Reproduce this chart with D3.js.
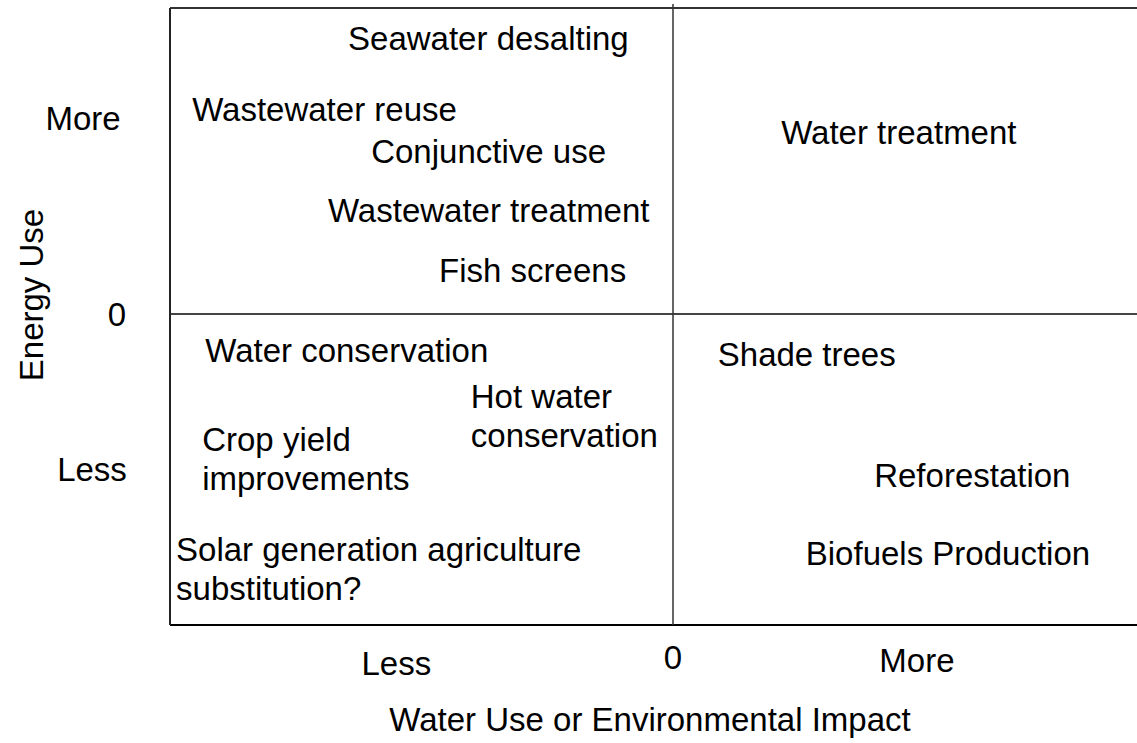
<!DOCTYPE html>
<html>
<head>
<meta charset="utf-8">
<title>Energy vs Water Use</title>
<script src="https://d3js.org/d3.v7.min.js"></script>
<style>
  body { margin: 0; background: #fff; }
  text { font-family: "Liberation Sans", Arial, sans-serif; font-size: 33px; fill: #000; }
</style>
</head>
<body>
<svg id="chart"></svg>
<script>
// quadrant labels, positions in data units (-1..1 on both axes)
var labelText = [
  ["Seawater desalting"],
  ["Wastewater reuse"],
  ["Conjunctive use"],
  ["Wastewater treatment"],
  ["Fish screens"],
  ["Water treatment"],
  ["Water conservation"],
  ["Hot water", "conservation"],
  ["Crop yield", "improvements"],
  ["Shade trees"],
  ["Reforestation"],
  ["Solar generation agriculture", "substitution?"],
  ["Biofuels Production"]
];
var labelX = [-0.646, -0.956, -0.600, -0.686, -0.465, 0.215, -0.930, -0.402, -0.936, 0.089, 0.400, -0.988, 0.264];
var labelY = [0.863, 0.631, 0.493, 0.301, 0.105, 0.556, -0.154, -0.302, -0.441, -0.167, -0.556, -0.794, -0.807];

var xTickLabels = ["Less", "0", "More"];
var xTickPos = [-0.55, 0, 0.485];
var yTickLabels = ["More", "0", "Less"];
var yTickPos = [0.64, 0, -0.50];

var width = 1137, height = 743;
var svg = d3.select("#chart").attr("width", width).attr("height", height);

var x = d3.scaleLinear().domain([-1, 0, 1]).range([170, 673, 1176]);
var y = d3.scaleLinear().domain([-1, 0, 1]).range([625, 314, 8]);

// frame + quadrant lines
var g = svg.append("g");
g.append("line").attr("x1", x(-1)).attr("x2", x(1)).attr("y1", y(1)).attr("y2", y(1))
  .attr("stroke", "#333").attr("stroke-width", 2);
g.append("line").attr("x1", x(-1)).attr("x2", x(1)).attr("y1", y(0)).attr("y2", y(0))
  .attr("stroke", "#444").attr("stroke-width", 2);
g.append("line").attr("x1", x(-1)).attr("x2", x(1)).attr("y1", y(-1)).attr("y2", y(-1))
  .attr("stroke", "#000").attr("stroke-width", 2);
g.append("line").attr("x1", x(-1)).attr("x2", x(-1)).attr("y1", y(1)).attr("y2", y(-1))
  .attr("stroke", "#222").attr("stroke-width", 2);
g.append("line").attr("x1", x(0)).attr("x2", x(0)).attr("y1", y(1) - 4).attr("y2", y(-1))
  .attr("stroke", "#333").attr("stroke-width", 1.5);

// labels inside quadrants
var labels = svg.append("g").selectAll("text")
  .data(labelText)
  .enter().append("text")
  .attr("x", function (d, i) { return x(labelX[i]); })
  .attr("y", function (d, i) { return y(labelY[i]); });
labels.selectAll("tspan")
  .data(function (d) { return d; })
  .enter().append("tspan")
  .attr("x", function () { return this.parentNode.getAttribute("x"); })
  .attr("dy", function (d, i) { return i === 0 ? 0 : 39; })
  .text(function (d) { return d; });

// axis tick labels
svg.append("g").selectAll("text").data(xTickLabels).enter().append("text")
  .attr("x", function (d, i) { return x(xTickPos[i]); })
  .attr("y", 669)
  .attr("text-anchor", "middle")
  .attr("dy", function (d, i) { return i === 0 ? 6 : i === 2 ? 3 : 0; })
  .text(function (d) { return d; });

svg.append("g").selectAll("text").data(yTickLabels).enter().append("text")
  .attr("x", function (d, i) { return [83, 117, 92][i]; })
  .attr("y", function (d, i) { return y(yTickPos[i]); })
  .attr("text-anchor", "middle")
  .attr("dominant-baseline", "central")
  .text(function (d) { return d; });

// axis titles
svg.append("text")
  .attr("x", 650).attr("y", 731)
  .attr("text-anchor", "middle")
  .text("Water Use or Environmental Impact");

svg.append("text")
  .attr("transform", "translate(31,295) rotate(-90)")
  .attr("text-anchor", "middle")
  .attr("dominant-baseline", "central")
  .text("Energy Use");
</script>
</body>
</html>
